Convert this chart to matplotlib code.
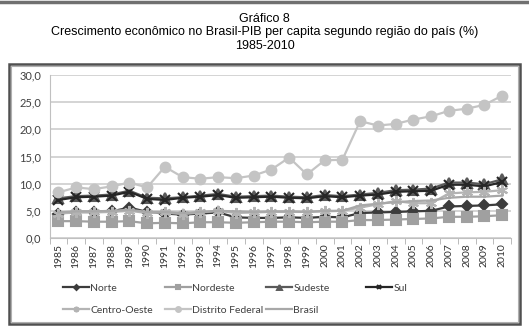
import numpy as np
import matplotlib
matplotlib.use('Agg')
import matplotlib.pyplot as plt
from matplotlib.patches import Rectangle
from matplotlib.lines import Line2D

years = [str(y) for y in range(1985, 2011)]

norte = [4.5, 4.8, 4.8, 4.9, 5.6, 4.8, 4.5, 4.3, 4.5, 4.7, 3.8, 3.7, 3.7,
         3.8, 3.7, 3.9, 3.8, 4.6, 4.7, 4.8, 4.9, 5.0, 5.8, 5.9, 6.0, 6.2]
nordeste = [3.1, 3.1, 3.0, 3.0, 3.1, 2.7, 2.8, 2.7, 2.9, 2.9, 2.8, 2.9, 3.0,
            3.0, 2.9, 3.0, 3.0, 3.3, 3.3, 3.4, 3.5, 3.6, 3.9, 3.9, 4.0, 4.2]
sudeste = [7.3, 7.7, 7.8, 8.0, 8.7, 7.4, 7.3, 7.5, 7.8, 8.1, 7.6, 7.7, 7.8,
           7.6, 7.5, 7.9, 7.7, 8.0, 8.3, 8.8, 8.9, 9.1, 10.2, 10.2, 9.9, 10.8]
sul = [7.0, 7.5, 7.6, 7.8, 8.5, 7.2, 7.0, 7.4, 7.6, 7.9, 7.4, 7.5, 7.6,
       7.4, 7.3, 7.7, 7.5, 7.8, 8.0, 8.5, 8.6, 8.7, 9.8, 9.8, 9.5, 10.3]
centro_oeste = [4.5, 4.7, 4.7, 4.8, 5.0, 4.6, 4.7, 4.4, 4.7, 5.0, 4.6, 4.7, 4.8,
                4.8, 4.8, 4.9, 5.0, 5.6, 6.2, 6.8, 6.4, 6.4, 8.2, 8.4, 8.5, 8.8]
distrito_federal = [8.4, 9.3, 9.0, 9.5, 10.2, 9.3, 13.1, 11.2, 10.9, 11.2, 11.0, 11.5, 12.6,
                    14.8, 11.7, 14.3, 14.4, 21.5, 20.7, 21.0, 21.8, 22.4, 23.4, 23.8, 24.5, 26.2]
brasil = [4.7, 4.9, 4.9, 5.0, 5.2, 4.8, 4.8, 4.6, 4.8, 5.0, 4.9, 4.8, 4.9,
          4.9, 4.8, 5.0, 5.0, 6.0, 6.3, 6.6, 6.8, 6.9, 7.4, 7.6, 7.6, 7.8]

fig = plt.figure(figsize=(5.29, 3.32), dpi=100)

# titles
fig.text(0.5, 1 - 19 / 332., u"Gráfico 8", ha='center', va='center',
         fontsize=9, family='Liberation Sans')
fig.text(0.5, 1 - 32.5 / 332., u"Crescimento econômico no Brasil-PIB per capita segundo região do país (%)",
         ha='center', va='center', fontsize=9, family='Liberation Sans')
fig.text(0.5, 1 - 46 / 332., "1985-2010", ha='center', va='center',
         fontsize=9, family='Liberation Sans')

# top rule and chart frame
fig.add_artist(Line2D([0, 1], [1 - 2 / 332., 1 - 2 / 332.], color='#707070', lw=2.5))
fig.add_artist(Rectangle((9 / 529., 1 - 324 / 332.), 511 / 529., 260 / 332.,
                         fill=False, edgecolor='#505050', lw=1.8))
fig.add_artist(Rectangle((11 / 529., 1 - 322 / 332.), 507 / 529., 256 / 332.,
                         fill=False, edgecolor='#b0b0b0', lw=0.8))

ax = fig.add_axes([49.5 / 529., 1 - 238 / 332., 461.5 / 529., 163 / 332.])
x = np.arange(len(years))

series = [
    ('Norte', norte, '#3c3c3c', 'D', 5),
    ('Nordeste', nordeste, '#a0a0a0', 's', 7),
    ('Sudeste', sudeste, '#5a5a5a', '^', 7),
    ('Sul', sul, '#262626', 'x', 7),
    ('Centro-Oeste', centro_oeste, '#b4b4b4', (6, 2, 0), 8),
    ('Distrito Federal', distrito_federal, '#c4c4c4', 'o', 7),
    ('Brasil', brasil, '#a8a8a8', None, 0),
]
handles = {}
for name, vals, col, mk, ms in series:
    ln, = ax.plot(x, vals, color=col, lw=1.6, marker=mk, markersize=ms,
                  markeredgewidth=1.5, zorder=3, label=name)
    handles[name] = ln

ax.set_xlim(-0.5, len(years) - 0.5)
ax.set_ylim(0, 30)
ax.set_yticks(np.arange(0, 31, 5))
ax.set_yticklabels([('%.1f' % v).replace('.', ',') for v in np.arange(0, 31, 5)])
ax.set_xticks(x)
ax.set_xticklabels(years, rotation=90, fontsize=7.5, family='Lato', color='#303030')
ax.set_xticks(np.arange(-0.5, len(years), 1), minor=True)
ax.tick_params(axis='x', which='major', length=0, pad=4)
ax.tick_params(axis='x', which='minor', length=4, color='#b0b0b0')
ax.tick_params(axis='y', length=0, labelsize=8, labelcolor='#404040', pad=6)
for t in ax.get_yticklabels():
    t.set_family('Lato')
ax.grid(True, axis='y', color='#d4d4d4', lw=1.4, zorder=0)
for s in ['top', 'right']:
    ax.spines[s].set_visible(False)
ax.spines['left'].set_color('#c0c0c0')
ax.spines['bottom'].set_color('#c0c0c0')

# legend entries on a fixed grid: 4 columns, 2 rows
col_x = [58, 160, 261, 361]
row_y = [288, 310]
names = [s[0] for s in series]
for i, n in enumerate(names):
    r, c = divmod(i, 4)
    fig.legend([handles[n]], [n], frameon=False, loc='center left',
               bbox_to_anchor=(col_x[c] / 529., 1 - row_y[r] / 332.),
               prop={'family': 'Lato', 'size': 7.5}, handlelength=2.5,
               handletextpad=0.1, borderpad=0, markerscale=0.5,
               labelcolor='#404040')

plt.savefig('out.png', dpi=100)
